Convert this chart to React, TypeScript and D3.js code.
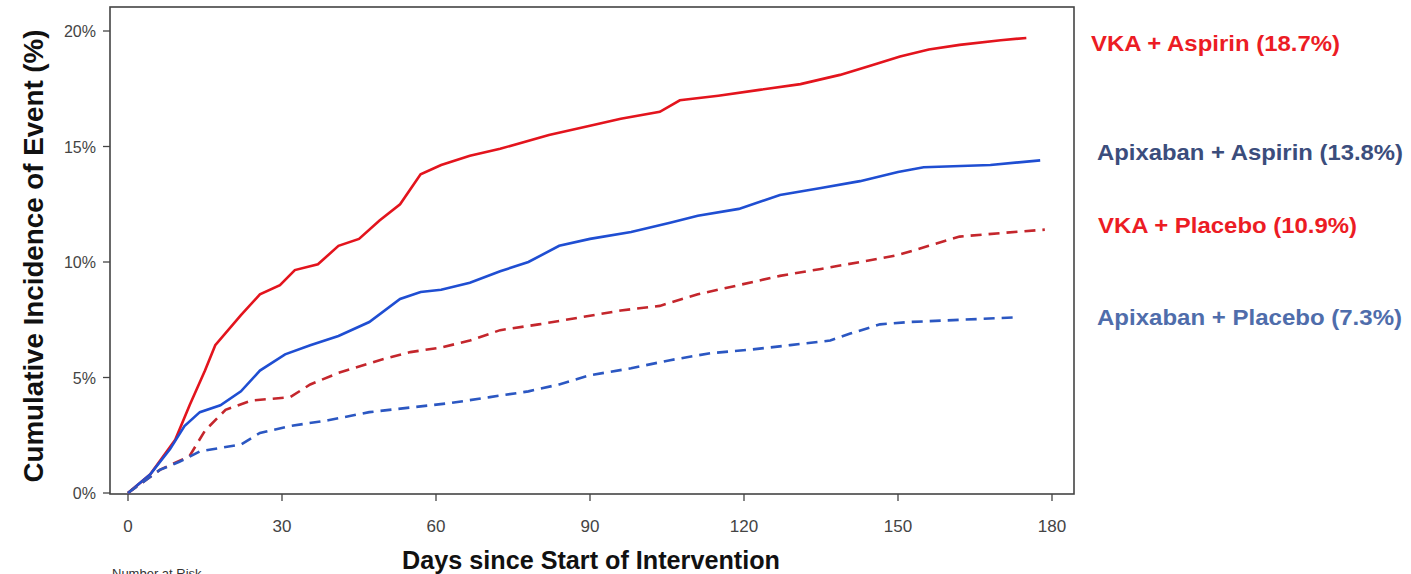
import { scaleLinear, line, curveLinear } from "d3";

const xTicks = [0, 30, 60, 90, 120, 150, 180];
const yTicks = [0, 5, 10, 15, 20];

// days since start, cumulative incidence (%)
const vkaAspirinDays = [0, 4.3, 9.2, 12, 15, 17, 22, 25.7, 29.6, 32.5, 37, 41, 45, 49, 53, 57, 61, 66.6, 72.5, 82, 90, 96, 103.6, 107.5, 115, 123, 131, 138.7, 144.6, 150.4, 156, 162, 170, 175];
const vkaAspirinPct = [0, 0.8, 2.3, 3.8, 5.3, 6.4, 7.7, 8.6, 9.0, 9.65, 9.9, 10.7, 11.0, 11.8, 12.5, 13.8, 14.2, 14.6, 14.9, 15.5, 15.9, 16.2, 16.5, 17.0, 17.2, 17.45, 17.7, 18.1, 18.5, 18.9, 19.2, 19.4, 19.6, 19.7];

const apixAspirinDays = [0, 4.3, 8.2, 11, 14, 18, 22, 25.7, 30.6, 35.5, 41, 47, 53, 57, 61, 66.6, 72.5, 78, 84, 90, 98, 105.6, 111, 119, 127, 135, 142.6, 150, 155, 168, 177.7];
const apixAspirinPct = [0, 0.8, 1.9, 2.9, 3.5, 3.8, 4.4, 5.3, 6.0, 6.4, 6.8, 7.4, 8.4, 8.7, 8.8, 9.1, 9.6, 10.0, 10.7, 11.0, 11.3, 11.7, 12.0, 12.3, 12.9, 13.2, 13.5, 13.9, 14.1, 14.2, 14.4];

const vkaPlaceboDays = [0, 6.2, 12, 15, 19, 24, 31.6, 35.5, 41, 49, 55, 61, 66.6, 72.5, 80, 88, 96, 103.6, 111, 119, 127, 135, 142.6, 150, 156, 162, 170, 178.6];
const vkaPlaceboPct = [0, 1.0, 1.6, 2.7, 3.6, 4.0, 4.15, 4.7, 5.2, 5.75, 6.1, 6.3, 6.6, 7.05, 7.3, 7.6, 7.9, 8.1, 8.6, 9.0, 9.4, 9.7, 10.0, 10.3, 10.7, 11.1, 11.25, 11.4];

const apixPlaceboDays = [0, 6.2, 10, 14, 22, 25.7, 31.6, 39, 47, 55, 63, 70.5, 78, 84, 90, 98, 105.6, 113.4, 121, 129, 136.8, 140.7, 146.5, 152, 172.8];
const apixPlaceboPct = [0, 1.0, 1.35, 1.8, 2.1, 2.6, 2.9, 3.15, 3.5, 3.7, 3.9, 4.15, 4.4, 4.7, 5.1, 5.4, 5.75, 6.05, 6.2, 6.4, 6.6, 6.9, 7.3, 7.4, 7.6];

const seriesNames = [
  "VKA + Aspirin (18.7%)",
  "Apixaban + Aspirin (13.8%)",
  "VKA + Placebo (10.9%)",
  "Apixaban + Placebo (7.3%)",
];

export default function App() {
  const width = 1411;
  const height = 574;
  const frame = { left: 110, right: 1074, top: 7, bottom: 494 };

  const x = scaleLinear().domain([0, 180]).range([128, 1052]);
  const y = scaleLinear().domain([0, 20]).range([493, 31]);

  const path = line<[number, number]>()
    .x((d) => x(d[0]))
    .y((d) => y(d[1]))
    .curve(curveLinear);

  // label placement and widths matched to the figure
  const series = [
    { name: seriesNames[0], days: vkaAspirinDays, pct: vkaAspirinPct, color: "#e3141d", dash: null, labelColor: "#ec1c24", lx: 1091, ly: 51, lw: 249 },
    { name: seriesNames[1], days: apixAspirinDays, pct: apixAspirinPct, color: "#1f4ed2", dash: null, labelColor: "#3b4d7c", lx: 1097, ly: 160, lw: 306 },
    { name: seriesNames[2], days: vkaPlaceboDays, pct: vkaPlaceboPct, color: "#c4262c", dash: "11,7", labelColor: "#ec1c24", lx: 1098, ly: 233, lw: 259 },
    { name: seriesNames[3], days: apixPlaceboDays, pct: apixPlaceboPct, color: "#2b57c2", dash: "11,7", labelColor: "#4f6dab", lx: 1097, ly: 325, lw: 305 },
  ];

  const font = "Liberation Sans, Arial, sans-serif";

  return (
    <div>
      <style>{`body{margin:0}`}</style>
      <svg width={width} height={height} style={{ display: "block", fontFamily: font }}>
        <rect width={width} height={height} fill="#fff" />
        <rect
          x={frame.left}
          y={frame.top}
          width={frame.right - frame.left}
          height={frame.bottom - frame.top}
          fill="none"
          stroke="#444"
          strokeWidth={1.6}
        />

        {yTicks.map((t) => (
          <g key={t}>
            <line x1={frame.left - 7} x2={frame.left} y1={y(t)} y2={y(t)} stroke="#444" strokeWidth={1.3} />
            <text x={96} y={y(t) + 6} fontSize={16} fill="#444" textAnchor="end">
              {t}%
            </text>
          </g>
        ))}

        {xTicks.map((t) => (
          <g key={t}>
            <line x1={x(t)} x2={x(t)} y1={frame.bottom} y2={frame.bottom + 7} stroke="#444" strokeWidth={1.3} />
            <text x={x(t)} y={532} fontSize={17} fill="#444" textAnchor="middle">
              {t}
            </text>
          </g>
        ))}

        {series.map((s) => (
          <path
            key={s.name}
            d={path(s.days.map((d, i) => [d, s.pct[i]] as [number, number])) || ""}
            fill="none"
            stroke={s.color}
            strokeWidth={2.6}
            strokeDasharray={s.dash || undefined}
          />
        ))}

        {series.map((s) => (
          <text
            key={s.name}
            x={s.lx}
            y={s.ly}
            fontSize={22}
            fontWeight="bold"
            fill={s.labelColor}
            textLength={s.lw}
            lengthAdjust="spacingAndGlyphs"
          >
            {s.name}
          </text>
        ))}

        <text
          transform="translate(43,256) rotate(-90)"
          textAnchor="middle"
          fontSize={27}
          fontWeight="bold"
          fill="#111"
          textLength={453}
          lengthAdjust="spacingAndGlyphs"
        >
          Cumulative Incidence of Event (%)
        </text>
        <text
          x={591}
          y={569}
          textAnchor="middle"
          fontSize={26}
          fontWeight="bold"
          fill="#111"
          textLength={378}
          lengthAdjust="spacingAndGlyphs"
        >
          Days since Start of Intervention
        </text>
        <text x={112} y={578} fontSize={13} fill="#333">
          Number at Risk
        </text>
      </svg>
    </div>
  );
}
